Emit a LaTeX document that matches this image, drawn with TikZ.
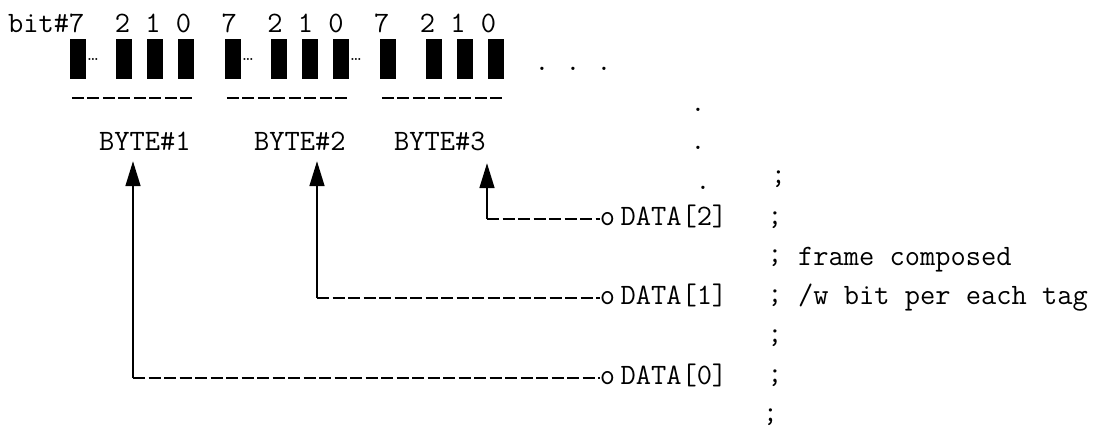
\documentclass[tikz,border=0pt]{standalone}
\usetikzlibrary{arrows.meta}

\begin{document}
\begin{tikzpicture}[x=1pt,y=-1pt,
		txt/.style={inner sep=0pt, font=\ttfamily\fontsize{29.6}{34}\selectfont},
		bitbox/.style={fill=black, inner sep=0pt, minimum width=16pt, minimum height=40pt},
		gap/.style={inner sep=0pt, font=\fontsize{14}{14}\selectfont\bfseries},
		bytename/.style={txt, anchor=base west, text depth=0pt},
		underline/.style={line width=1.6pt, dash pattern=on 12pt off 3.5pt},
		busline/.style={line width=1.5pt, dash pattern=on 12pt off 3.5pt},
		feedline/.style={line width=1.7pt, -{Triangle[length=25pt,width=15pt]}}]
	\useasboundingbox (0,0) rectangle (1099,432);

	\node[txt, anchor=base west] (bits) at (8,32) {bit\#7~ 2 1 0~ 7~ 2 1 0~ 7~ 2 1 0};

	\node[bitbox] (b17) at (78,59) {};
	\node[bitbox] (b12) at (124,59) {};
	\node[bitbox] (b11) at (155,59) {};
	\node[bitbox] (b10) at (186,59) {};

	\node[bitbox] (b27) at (233,59) {};
	\node[bitbox] (b22) at (279,59) {};
	\node[bitbox] (b21) at (310,59) {};
	\node[bitbox] (b20) at (341,59) {};

	\node[bitbox] (b37) at (388,59) {};
	\node[bitbox] (b32) at (434,59) {};
	\node[bitbox] (b31) at (465,59) {};
	\node[bitbox] (b30) at (496,59) {};

	\node[gap, anchor=west] (e1) at ([xshift=1pt]b17.east) {\ldots};
	\node[gap, anchor=west] (e2) at ([xshift=1pt]b27.east) {\ldots};
	\node[gap, anchor=west] (e3) at ([xshift=1pt]b20.east) {\ldots};

	\draw[underline] ([xshift=2pt,yshift=-19pt]b17.south west) -- ([yshift=-19pt]b10.south east);
	\draw[underline] ([xshift=2pt,yshift=-19pt]b27.south west) -- ([yshift=-19pt]b20.south east);
	\draw[underline] ([xshift=2pt,yshift=-19pt]b37.south west) -- ([yshift=-19pt]b30.south east);

	\node[bytename] (byte1) at (99,150) {BYTE\#1};
	\node[bytename] (byte2) at (254,150) {BYTE\#2};
	\node[bytename] (byte3) at (394,150) {BYTE\#3};

	\node[txt] (d1) at (542,69) {.};
	\node[txt] (d2) at (573,69) {.};
	\node[txt] (d3) at (604,69) {.};
	\node[txt] (d4) at (698,110) {.};
	\node[txt] (d5) at (698,148) {.};
	\node[txt] (d6) at (703,188) {.};

	\node[txt] (s1) at (778.5,179) {;};
	\node[txt] (s2) at (775,220) {;};
	\node[txt] (s3) at (775,258.5) {;};
	\node[txt] (s4) at (775,298.5) {;};
	\node[txt] (s5) at (775,338.5) {;};
	\node[txt] (s6) at (775,378.5) {;};
	\node[txt] (s7) at (770.5,417.5) {;};

	\node[txt, anchor=base west] (note1) at (798,265) {frame composed};
	\node[txt, anchor=base west] (note2) at (798,304.4) {/w bit per each tag};

	\node[txt] (tap2) at (607.5,219) {o};
	\node[txt] (tap1) at (607.5,298) {o};
	\node[txt] (tap0) at (607.5,378) {o};
	\node[txt, anchor=base west] (data2) at ([xshift=5pt]tap2.base east) {DATA[2]};
	\node[txt, anchor=base west] (data1) at ([xshift=5pt]tap1.base east) {DATA[1]};
	\node[txt, anchor=base west] (data0) at ([xshift=5pt]tap0.base east) {DATA[0]};

	\coordinate (tip1) at ([xshift=34pt,yshift=-11pt]byte1.south west);
	\coordinate (tip2) at ([xshift=63pt,yshift=-11pt]byte2.south west);
	\coordinate (tip3) at ([xshift=93pt,yshift=-13pt]byte3.south west);

	\draw[busline] (tap2.west -| tip3) -- (tap2.west);
	\draw[feedline] (tap2.west -| tip3) -- (tip3);
	\draw[busline] (tap1.west -| tip2) -- (tap1.west);
	\draw[feedline] (tap1.west -| tip2) -- (tip2);
	\draw[busline] (tap0.west -| tip1) -- (tap0.west);
	\draw[feedline] (tap0.west -| tip1) -- (tip1);
\end{tikzpicture}
\end{document}
